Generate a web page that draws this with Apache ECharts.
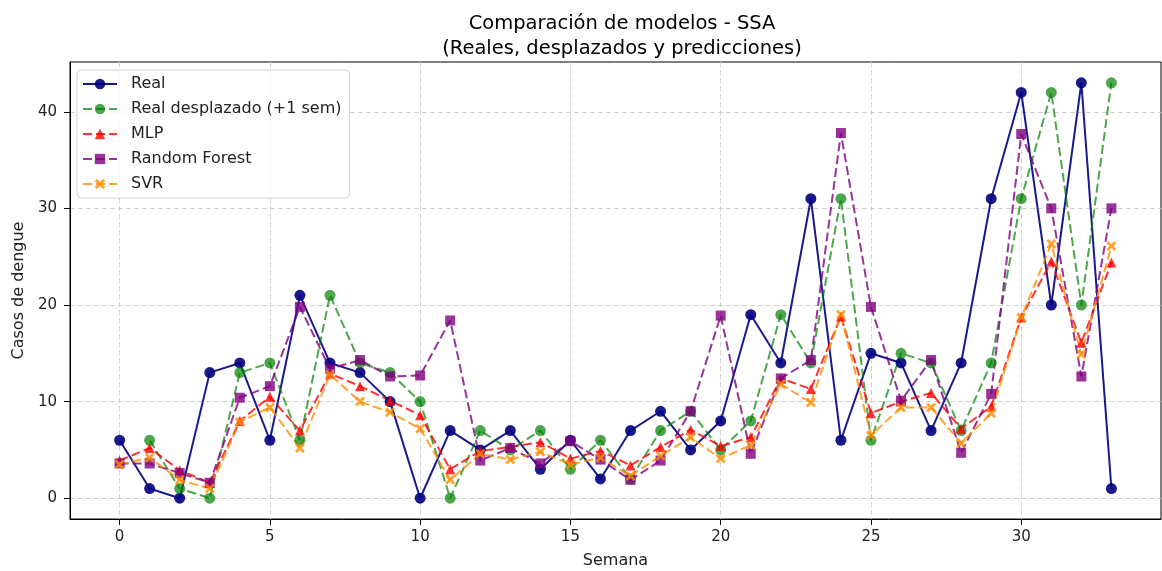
<!DOCTYPE html>
<html>
<head>
<meta charset="utf-8">
<script src="https://cdn.jsdelivr.net/npm/echarts@6/dist/echarts.min.js"></script>
<style>html,body{margin:0;padding:0;background:#fff}#c{width:1162px;height:571px}</style>
</head>
<body>
<div id="c"></div>
<script>
const semanas = [0,1,2,3,4,5,6,7,8,9,10,11,12,13,14,15,16,17,18,19,20,21,22,23,24,25,26,27,28,29,30,31,32,33];
const real = [6,1,0,13,14,6,21,14,13,10,0,7,5,7,3,6,2,7,9,5,8,19,14,31,6,15,14,7,14,31,42,20,43,1];
const realDesplazado = [null,6,1,0,13,14,6,21,14,13,10,0,7,5,7,3,6,2,7,9,5,8,19,14,31,6,15,14,7,14,31,42,20,43];
const mlp = [3.9,5.2,2.9,1.6,8.0,10.5,7.0,12.9,11.6,10.1,8.6,3.0,4.9,5.3,5.8,4.1,4.9,3.4,5.3,7.1,5.4,6.3,12.4,11.3,18.8,8.8,10.0,10.9,7.2,9.5,18.7,24.5,16.1,24.4];
const randomForest = [3.6,3.6,2.6,1.6,10.4,11.6,19.8,13.4,14.3,12.6,12.7,18.4,3.9,5.2,3.6,5.9,4.0,1.9,3.9,9.0,18.9,4.6,12.4,14.3,37.8,19.8,10.1,14.3,4.7,10.8,37.7,30.0,12.6,30.0];
const svr = [3.5,4.2,1.9,1.0,7.9,9.4,5.2,12.8,10.0,8.9,7.2,1.9,4.6,4.0,4.8,3.5,4.2,2.3,4.4,6.3,4.1,5.5,11.8,9.9,19.0,6.5,9.4,9.4,5.7,8.8,18.7,26.3,14.9,26.1];
const xTicks = [0,5,10,15,20,25,30];
const yTicks = [0,10,20,30,40];

const pairs = arr => semanas.map((s,i) => [s, arr[i]]);
const xSym = 'path://M2,0 L5,3 L8,0 L10,2 L7,5 L10,8 L8,10 L5,7 L2,10 L0,8 L3,5 L0,2 Z';
const font = 'DejaVu Sans';

function mk(name, arr, color, symbol, size, dashed, opacity) {
  return {
    name, type: 'line', data: pairs(arr), symbol, symbolSize: size,
    showSymbol: true, connectNulls: false, animation: false,
    lineStyle: {color, width: 2, type: dashed ? [9,4] : 'solid', opacity},
    itemStyle: {color, opacity},
    emphasis: {disabled: true}
  };
}

const chart = echarts.init(document.getElementById('c'), null, {renderer: 'canvas'});
chart.setOption({
  animation: false,
  backgroundColor: '#fff',
  textStyle: {fontFamily: font},
  title: [
    {text: 'Comparación de modelos - SSA', left: 617, top: 9, textAlign: 'center',
     textStyle: {fontFamily: font, fontSize: 19.5, fontWeight: 'normal', color: '#000'}},
    {text: '(Reales, desplazados y predicciones)', left: 617, top: 34, textAlign: 'center',
     textStyle: {fontFamily: font, fontSize: 19.5, fontWeight: 'normal', color: '#000'}}
  ],
  grid: {left: 70, right: 1, top: 62, bottom: 52, show: true, borderColor: '#000', borderWidth: 1,
         containLabel: false, outerBoundsMode: 'none'},
  legend: {
    orient: 'vertical', left: 77, top: 70, itemWidth: 34, itemHeight: 13, itemGap: 7,
    padding: [5, 8, 5, 5], backgroundColor: 'rgba(255,255,255,0.85)', borderColor: '#d0d0d0', borderWidth: 1, borderRadius: 4,
    textStyle: {fontFamily: font, fontSize: 16, color: '#222', lineHeight: 18, padding: [0, 0, 0, 9]},
    data: ['Real','Real desplazado (+1 sem)','MLP','Random Forest','SVR']
  },
  xAxis: {
    type: 'value', min: -1.65, max: 34.65, name: 'Semana', nameLocation: 'middle', nameGap: 34,
    nameTextStyle: {fontFamily: font, fontSize: 16, color: '#222'},
    axisLine: {show: true, onZero: false, lineStyle: {color: '#000', width: 1}},
    axisTick: {show: true, length: 6, lineStyle: {color: '#000'}, customValues: xTicks},
    axisLabel: {customValues: xTicks, fontFamily: font, fontSize: 15, color: '#222', margin: 11},
    splitLine: {show: true, customValues: xTicks, lineStyle: {color: '#d0d0d0', type: [5,3], width: 1}}
  },
  yAxis: {
    type: 'value', min: -2.15, max: 45.15, name: 'Casos de dengue', nameLocation: 'middle', nameGap: 40,
    nameTextStyle: {fontFamily: font, fontSize: 16, color: '#222'},
    axisLine: {show: true, onZero: false, lineStyle: {color: '#000', width: 1}},
    axisTick: {show: true, length: 6, lineStyle: {color: '#000'}, customValues: yTicks},
    axisLabel: {customValues: yTicks, fontFamily: font, fontSize: 15, color: '#222', margin: 13},
    splitLine: {show: true, customValues: yTicks, lineStyle: {color: '#d0d0d0', type: [5,3], width: 1}}
  },
  series: [
    mk('Real', real, '#000080', 'circle', 11, false, 0.9),
    mk('Real desplazado (+1 sem)', realDesplazado, '#008000', 'circle', 11, true, 0.7),
    mk('MLP', mlp, '#ff0000', 'triangle', 10, true, 0.8),
    mk('Random Forest', randomForest, '#800080', 'rect', 10, true, 0.8),
    mk('SVR', svr, '#ff8c00', xSym, 10, true, 0.8)
  ]
});
</script>
</body>
</html>
